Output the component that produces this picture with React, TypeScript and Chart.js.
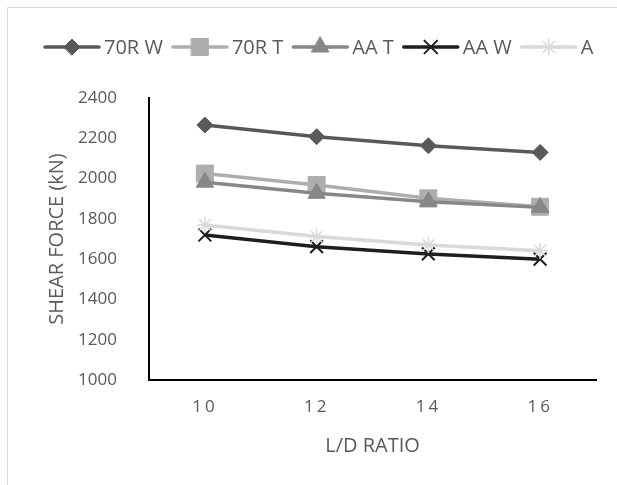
import React, { useEffect, useRef } from "react";
import { Chart, registerables } from "chart.js";
import { drawPoint } from "chart.js/helpers";

Chart.register(...registerables);

const categories = ["10", "12", "14", "16"];
const seriesNames = ["70R W", "70R T", "AA T", "AA W", "A"];
const r70W = [2266, 2208, 2163, 2130];
const r70T = [2025, 1968, 1902, 1860];
const aaT = [1982, 1927, 1885, 1857];
const aaW = [1720, 1662, 1626, 1600];
const aSeries = [1770, 1712, 1670, 1642];
const yMin = 1000;
const yMax = 2400;
const yStep = 200;

const colors = ["#595959", "#aeaeae", "#878787", "#1e1e1e", "#d9d9d9"];
const styles = ["rectRot", "rect", "triangle", "crossRot", "star"];
const radii = [8, 12, 10, 9, 8];
const pBorder = [1, 1, 1, 2, 1.5];
const FONT = '"Open Sans", "Liberation Sans", sans-serif';

const frame = {
  id: "frame",
  beforeDraw(chart: any) {
    const ctx = chart.ctx;
    ctx.save();
    ctx.fillStyle = "#ffffff";
    ctx.fillRect(0, 0, chart.width, chart.height);
    ctx.strokeStyle = "#d9d9d9";
    ctx.lineWidth = 1;
    ctx.beginPath();
    ctx.moveTo(7.5, chart.height);
    ctx.lineTo(7.5, 7.5);
    ctx.lineTo(chart.width, 7.5);
    ctx.stroke();
    ctx.restore();
  },
};

const legend = {
  id: "customLegend",
  afterDraw(chart: any) {
    const ctx = chart.ctx;
    ctx.save();
    ctx.font = `20px ${FONT}`;
    ctx.textBaseline = "middle";
    ctx.textAlign = "left";
    let x = 45;
    const y = 47;
    chart.data.datasets.forEach((ds: any) => {
      ctx.strokeStyle = ds.borderColor;
      ctx.lineWidth = 3.5;
      ctx.lineCap = "round";
      ctx.beginPath();
      ctx.moveTo(x, y);
      ctx.lineTo(x + 54, y);
      ctx.stroke();
      ctx.fillStyle = ds.pointBackgroundColor;
      ctx.strokeStyle = ds.pointBorderColor;
      ctx.lineWidth = ds.pointBorderWidth;
      drawPoint(
        ctx,
        { pointStyle: ds.pointStyle, radius: ds.pointRadius, rotation: 0, borderWidth: ds.pointBorderWidth } as any,
        x + 27,
        y
      );
      x += 59;
      ctx.fillStyle = "#595959";
      ctx.fillText(ds.label, x, y + 1);
      x += ctx.measureText(ds.label).width + 10;
    });
    ctx.restore();
  },
};

export default function App() {
  const ref = useRef<HTMLCanvasElement>(null);
  useEffect(() => {
    if (!ref.current) return;
    const data = [r70W, r70T, aaT, aaW, aSeries];
    const chart = new Chart(ref.current, {
      type: "line",
      data: {
        labels: categories,
        datasets: data.map((d, i) => ({
          label: seriesNames[i],
          data: d,
          borderColor: colors[i],
          backgroundColor: colors[i],
          borderWidth: 3.5,
          pointStyle: styles[i] as any,
          pointRadius: radii[i],
          pointBackgroundColor: colors[i],
          pointBorderColor: colors[i],
          pointBorderWidth: pBorder[i],
          tension: 0,
          order: 10 - i,
        })),
      },
      options: {
        responsive: false,
        animation: false,
        devicePixelRatio: 1,
        layout: { padding: { top: 98, right: 21, bottom: 0, left: 0 } },
        plugins: { legend: { display: false }, tooltip: { enabled: false } },
        scales: {
          x: {
            type: "category",
            offset: true,
            grid: { display: false, drawTicks: false },
            border: { display: true, color: "#000000", width: 2 },
            ticks: { color: "#595959", font: { family: FONT, size: 17 }, padding: 17 },
            title: {
              display: true,
              text: "L/D RATIO",
              color: "#595959",
              font: { family: FONT, size: 20 },
              padding: { top: 0, bottom: 27 },
            },
            afterFit(scale: any) {
              scale.height = 105;
              if (!scale.__ls) {
                const orig = scale.drawLabels;
                scale.drawLabels = function (area: any) {
                  const c = this.ctx;
                  c.save();
                  c.letterSpacing = "3px";
                  orig.call(this, area);
                  c.restore();
                };
                scale.__ls = true;
              }
            },
          },
          y: {
            min: yMin,
            max: yMax,
            grid: { display: false, drawTicks: false },
            border: { display: true, color: "#000000", width: 2 },
            ticks: {
              stepSize: yStep,
              color: "#595959",
              font: { family: FONT, size: 17 },
              padding: 32,
              callback: (v: any) => String(v),
            },
            title: {
              display: true,
              text: "SHEAR FORCE (kN)",
              color: "#595959",
              font: { family: FONT, size: 20 },
              padding: { top: 45, bottom: 0 },
            },
            afterFit(scale: any) {
              scale.width = 149;
            },
          },
        },
      },
      plugins: [frame, legend],
    });
    return () => chart.destroy();
  }, []);
  return (
    <div style={{ position: "absolute", left: 0, top: 0, width: 617, height: 485 }}>
      <canvas ref={ref} width={617} height={485} style={{ display: "block" }} />
    </div>
  );
}
